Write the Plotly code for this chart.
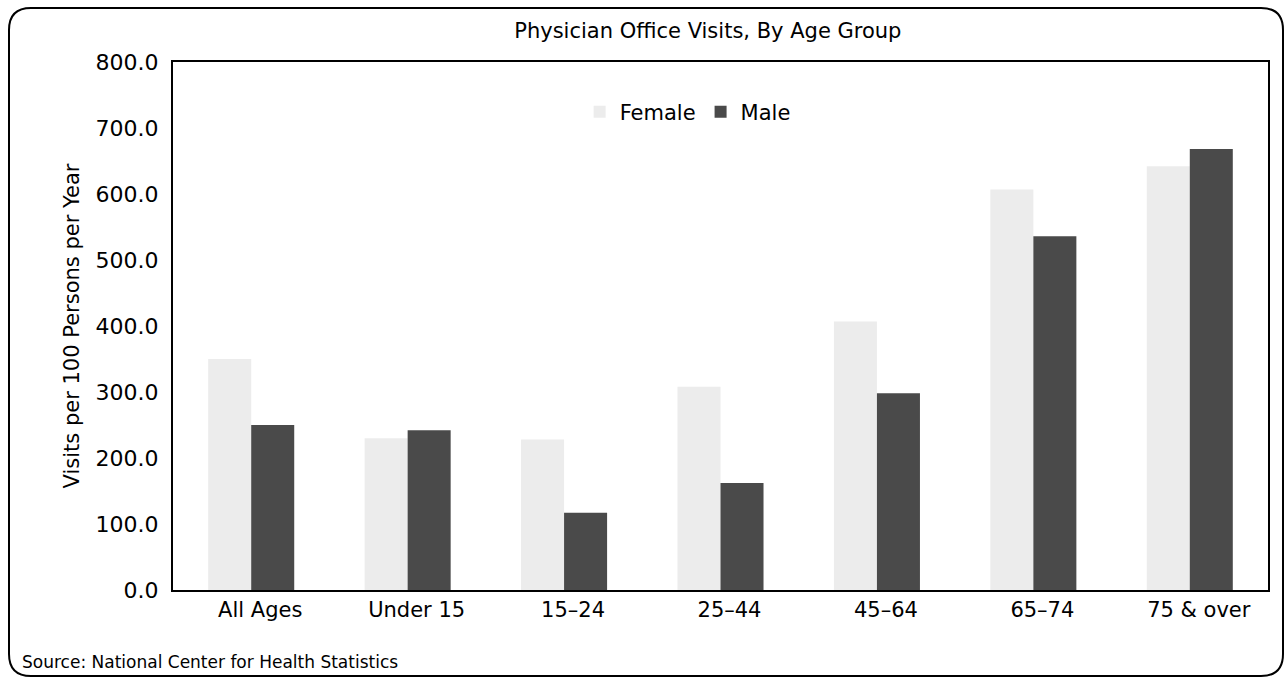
import plotly.graph_objects as go

# values (visits per 100 persons per year)
age_groups = ['All Ages', 'Under 15', '15\u201324', '25\u201344', '45\u201364', '65\u201374', '75 & over']
female_visits = [350.0, 230.0, 228.0, 308.0, 407.0, 607.0, 642.0]
male_visits = [250.0, 242.0, 117.0, 162.0, 298.0, 536.0, 668.0]
y_ticks = [0, 100, 200, 300, 400, 500, 600, 700, 800]

W, H = 1287, 684
L, R, T, B = 173, 19, 62, 94
FONT = 'DejaVu Sans'


def px_to_paper(x, y):
    # convert page pixels into paper coords so the outer frame can be drawn
    pw = W - L - R
    ph = H - T - B
    return (x - L) / pw, (H - B - y) / ph


def rounded_frame(x0, y0, x1, y1, r):
    ax, ay = px_to_paper(x0, y0)
    bx, by = px_to_paper(x1, y1)
    rx = px_to_paper(L + r, 0)[0]
    ry = px_to_paper(0, H - B - r)[1]
    return (f'M {ax + rx},{ay} L {bx - rx},{ay} Q {bx},{ay} {bx},{ay - ry} '
            f'L {bx},{by + ry} Q {bx},{by} {bx - rx},{by} '
            f'L {ax + rx},{by} Q {ax},{by} {ax},{by + ry} '
            f'L {ax},{ay - ry} Q {ax},{ay} {ax + rx},{ay} Z')


fig = go.Figure()
fig.add_trace(go.Bar(x=age_groups, y=female_visits, name='Female',
                     marker=dict(color='#ececec', line=dict(width=0))))
fig.add_trace(go.Bar(x=age_groups, y=male_visits, name='Male',
                     marker=dict(color='#4a4a4a', line=dict(width=0))))

fig.update_layout(
    width=W, height=H,
    margin=dict(l=L, r=R, t=T, b=B),
    paper_bgcolor='white', plot_bgcolor='white',
    font=dict(family=FONT, color='black'),
    barmode='group', bargap=0.45, bargroupgap=0,
    title=dict(text='Physician Office Visits, By Age Group', x=0.55, xanchor='center',
               y=1 - 31 / H, yanchor='middle', font=dict(size=21, family=FONT)),
    legend=dict(orientation='h', x=0.47, xanchor='center', y=0.905, yanchor='middle',
                font=dict(size=21), bgcolor='rgba(0,0,0,0)', itemwidth=30,
                traceorder='normal'),
    showlegend=True,
)
fig.update_yaxes(range=[0, 800], tickvals=y_ticks, tickformat='.1f',
                 showgrid=False, zeroline=False,
                 showline=True, linecolor='black', linewidth=2, mirror=True,
                 ticks='', tickfont=dict(size=22), ticklabelstandoff=8,
                 title=dict(text='Visits per 100 Persons per Year', font=dict(size=21),
                            standoff=10))
fig.update_xaxes(showgrid=False, showline=True, linecolor='black', linewidth=2,
                 mirror=True, ticks='', tickfont=dict(size=21), ticklabelshift=9)

fig.add_shape(type='path', xref='paper', yref='paper',
              path=rounded_frame(9, 8, 1283, 676, 22),
              line=dict(color='black', width=2), fillcolor='rgba(0,0,0,0)', layer='below')

sx, sy = px_to_paper(20, 662)
fig.add_annotation(text='Source: National Center for Health Statistics', xref='paper', yref='paper',
                   x=sx, y=sy, xanchor='left', yanchor='middle', showarrow=False,
                   font=dict(size=17, family=FONT))

fig.write_html('out.html', config={'displayModeBar': False},
               post_script="document.body.style.margin='0';")
